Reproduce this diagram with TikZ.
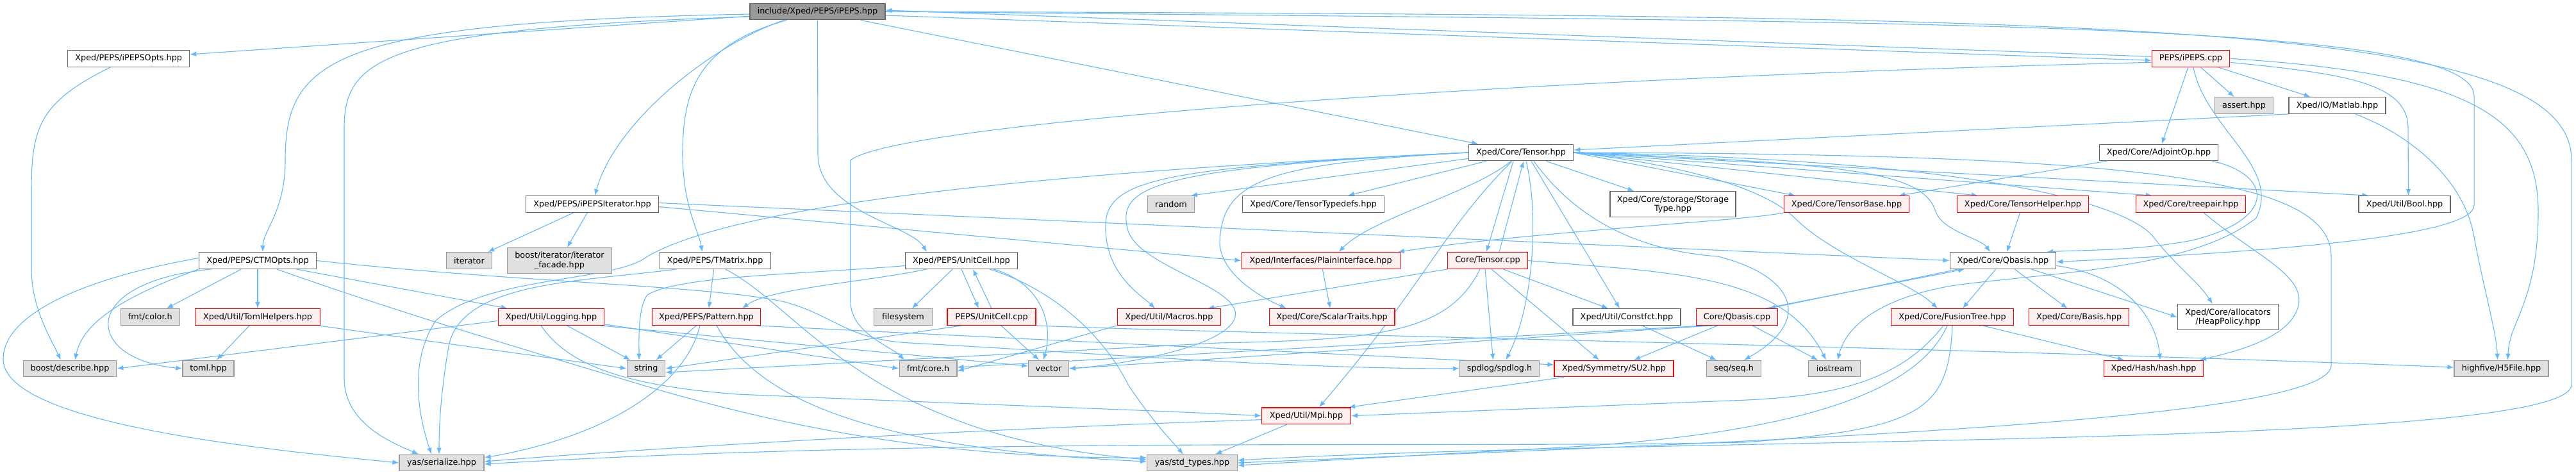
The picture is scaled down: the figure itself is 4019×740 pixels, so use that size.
\documentclass[tikz,border=0pt]{standalone}
\usepackage{fontspec}
\newfontfamily\dvs{DejaVu Sans}
\usetikzlibrary{arrows.meta}
\definecolor{edgeblue}{HTML}{63B8FF}
\definecolor{gfill}{HTML}{E0E0E0}
\definecolor{gline}{HTML}{999999}
\definecolor{wline}{HTML}{666666}
\definecolor{rline}{HTML}{FF0000}
\definecolor{rfill}{HTML}{FFF0F0}
\definecolor{mfill}{HTML}{999999}
\pgfdeclarelayer{back}
\pgfdeclarelayer{edges}
\pgfsetlayers{back,edges,main}
\begin{document}
\begin{tikzpicture}[x=0.5pt,y=-0.5pt,
  nb/.style={draw, line width=0.6pt, inner sep=0pt, minimum height=12.8pt, align=center, font=\dvs\fontsize{6.4pt}{7.2pt}\selectfont, text=black},
  wbox/.style={nb, fill=white, draw=wline},
  gbox/.style={nb, fill=gfill, draw=gline},
  rbox/.style={nb, fill=rfill, draw=rline},
  mbox/.style={nb, fill=mfill, draw=wline},
  dbl/.style={minimum height=20pt},
  dep/.style={draw=edgeblue, line width=0.55pt, -{Latex[length=5pt,width=3.8pt]}}
]
\begin{pgfonlayer}{back}
\fill[white] (0,0) rectangle (4019,740);
\end{pgfonlayer}
\useasboundingbox (0,0) rectangle (4019,740);

% ---------- nodes ----------
\node[mbox, minimum width=105.5pt] (root) at (1275.5,18) {include/Xped/PEPS/iPEPS.hpp};
\node[wbox, minimum width=95pt] (opts) at (200.7,91.3) {Xped/PEPS/iPEPSOpts.hpp};
\node[rbox, minimum width=60.75pt] (cpp) at (3418,91.3) {PEPS/iPEPS.cpp};
\node[gbox, minimum width=45.5pt] (assert) at (3501,164.5) {assert.hpp};
\node[wbox, minimum width=75.5pt] (matlab) at (3646.5,164.5) {Xped/IO/Matlab.hpp};
\node[wbox, minimum width=81.8pt] (tensor) at (2373,238) {Xped/Core/Tensor.hpp};
\node[wbox, minimum width=92.7pt] (adj) at (3368,238) {Xped/Core/AdjointOp.hpp};
\node[wbox, minimum width=103.4pt] (iter) at (924,318.5) {Xped/PEPS/iPEPSIterator.hpp};
\node[gbox, minimum width=36.3pt] (random) at (1827,318.5) {random};
\node[wbox, minimum width=110.8pt] (typedefs) at (2049,318.5) {Xped/Core/TensorTypedefs.hpp};
\node[wbox, dbl, minimum width=98pt] (storage) at (2610,318.7) {Xped/Core/storage/Storage\\Type.hpp};
\node[rbox, minimum width=97.5pt] (tbase) at (2881,318.5) {Xped/Core/TensorBase.hpp};
\node[rbox, minimum width=102.5pt] (thelper) at (3156,318.5) {Xped/Core/TensorHelper.hpp};
\node[rbox, minimum width=85.5pt] (treepair) at (3418,318.5) {Xped/Core/treepair.hpp};
\node[wbox, minimum width=71.5pt] (bool) at (3751.5,318.5) {Xped/Util/Bool.hpp};
\node[wbox, minimum width=91.5pt] (ctm) at (402,406.5) {Xped/PEPS/CTMOpts.hpp};
\node[gbox, minimum width=35.3pt] (iterator) at (732,406.5) {iterator};
\node[gbox, dbl, minimum width=81.3pt] (facade) at (873,406.5) {boost/iterator/iterator\\\_facade.hpp};
\node[wbox, minimum width=86.5pt] (tmatrix) at (1115.6,406.5) {Xped/PEPS/TMatrix.hpp};
\node[wbox, minimum width=87.5pt] (unitcell) at (1500,406.5) {Xped/PEPS/UnitCell.hpp};
\node[rbox, minimum width=123.5pt] (plain) at (2060.6,406.5) {Xped/Interfaces/PlainInterface.hpp};
\node[rbox, minimum width=62.3pt] (tcpp) at (2321,406.5) {Core/Tensor.cpp};
\node[wbox, minimum width=82.8pt] (qbasis) at (3125,406.5) {Xped/Core/Qbasis.hpp};
\node[gbox, minimum width=46pt] (color) at (234.4,494.5) {fmt/color.h};
\node[rbox, minimum width=97.8pt] (toml) at (402,494.5) {Xped/Util/TomlHelpers.hpp};
\node[rbox, minimum width=82.8pt] (logging) at (860,494.5) {Xped/Util/Logging.hpp};
\node[rbox, minimum width=84.8pt] (pattern) at (1102,494.5) {Xped/PEPS/Pattern.hpp};
\node[gbox, minimum width=45.5pt] (filesystem) at (1409,494.5) {filesystem};
\node[rbox, minimum width=69pt] (uccpp) at (1547,494.5) {PEPS/UnitCell.cpp};
\node[rbox, minimum width=80.8pt] (macros) at (1824,494.5) {Xped/Util/Macros.hpp};
\node[rbox, minimum width=97.9pt] (scalar) at (2078,494.5) {Xped/Core/ScalarTraits.hpp};
\node[wbox, minimum width=84pt] (constfct) at (2538,494.5) {Xped/Util/Constfct.hpp};
\node[rbox, minimum width=63.5pt] (qcpp) at (2710,494.5) {Core/Qbasis.cpp};
\node[rbox, minimum width=95.8pt] (fusion) at (3046,494.5) {Xped/Core/FusionTree.hpp};
\node[rbox, minimum width=78pt] (basis) at (3243.6,494.5) {Xped/Core/Basis.hpp};
\node[wbox, dbl, minimum width=78.8pt] (heap) at (3476,494.7) {Xped/Core/allocators\\/HeapPolicy.hpp};
\node[gbox, minimum width=72.8pt] (describe) at (109,575) {boost/describe.hpp};
\node[gbox, minimum width=40pt] (tomlhpp) at (325,575) {toml.hpp};
\node[gbox, minimum width=29.5pt] (string) at (1008,575) {string};
\node[gbox, minimum width=44.9pt] (fmtcore) at (1448,575) {fmt/core.h};
\node[gbox, minimum width=31.3pt] (vector) at (1636,575) {vector};
\node[gbox, minimum width=62pt] (spdlog) at (2339.5,575) {spdlog/spdlog.h};
\node[rbox, minimum width=93pt] (su2) at (2518,575) {Xped/Symmetry/SU2.hpp};
\node[gbox, minimum width=42.3pt] (seq) at (2705,575) {seq/seq.h};
\node[gbox, minimum width=40.3pt] (iostream) at (2862,575) {iostream};
\node[rbox, minimum width=77.8pt] (hash) at (3360,575) {Xped/Hash/hash.hpp};
\node[gbox, minimum width=73.5pt] (highfive) at (3902.5,575) {highfive/H5File.hpp};
\node[rbox, minimum width=69.5pt] (mpi) at (2038,648.7) {Xped/Util/Mpi.hpp};
\node[gbox, minimum width=66pt] (serialize) at (689,722) {yas/serialize.hpp};
\node[gbox, minimum width=70.3pt] (stdtypes) at (1860,722) {yas/std\_types.hpp};

% ---------- edges ----------
\begin{pgfonlayer}{edges}
% root
\draw[dep] (root) -- (opts);
\draw[dep] ([yshift=-2pt]root.west) .. controls (520,35) and (445,90) .. (445,250) .. controls (445,330) and (410,360) .. ([xshift=4pt]ctm.north);
\draw[dep] ([yshift=-4pt]root.west) .. controls (600,45) and (537,90) .. (537,200) -- (537,590) .. controls (537,660) and (610,690) .. ([xshift=-18pt]serialize.north);
\draw[dep] ([xshift=-26pt]root.south) .. controls (1110,70) and (960,190) .. ([xshift=2pt]iter.north);
\draw[dep] ([xshift=-24pt]root.south) .. controls (1090,70) and (1065,140) .. (1065,240) .. controls (1065,320) and (1090,360) .. ([xshift=-10pt]tmatrix.north);
\draw[dep] (root.south) -- (1276,240) .. controls (1276,330) and (1420,350) .. ([xshift=-27pt]unitcell.north);
\draw[dep] (root) -- (tensor);
\draw[dep] ([yshift=-3pt]root.east) -- ([yshift=-1.5pt]cpp.west);
\draw[dep] (root.east) .. controls (3000,35) and (3860,30) .. (3860,150) -- (3860,320) .. controls (3860,365) and (3600,390) .. ([yshift=-1pt]qbasis.east);
\draw[dep] (root.east) .. controls (3300,25) and (4012,30) .. (4012,250) -- (4012,600) .. controls (4012,700) and (2600,680) .. ([yshift=2pt]stdtypes.east);
% cpp
\draw[dep] ([yshift=1.5pt]cpp.west) -- ([yshift=1pt]root.east);
\draw[dep] (cpp) -- (assert);
\draw[dep] (cpp) -- (matlab);
\draw[dep] ([xshift=-2pt]cpp.south) -- (adj);
\draw[dep] ([yshift=-3pt]cpp.east) .. controls (3660,115) and (3757,130) .. (3757,200) -- ([xshift=3pt]bool.north);
\draw[dep] (cpp.east) .. controls (3850,115) and (3960,180) .. (3960,330) .. controls (3960,470) and (3915,500) .. ([xshift=5pt]highfive.north);
\draw[dep] ([xshift=2pt]cpp.south) .. controls (3440,200) and (3560,260) .. (3520,340) .. controls (3420,420) and (3200,425) .. (3050,445) .. controls (2930,465) and (2880,510) .. ([xshift=2.5pt]iostream.north);
\draw[dep] ([yshift=-3pt]cpp.west) .. controls (2400,120) and (1400,190) .. (1327,250) -- (1327,470) .. controls (1327,520) and (1390,540) .. ([xshift=-18.5pt]fmtcore.north);
% matlab
\draw[dep] (matlab.south west) -- ([yshift=2pt]tensor.east);
\draw[dep] ([xshift=14pt]matlab.south) .. controls (3760,210) and (3845,280) .. (3860,370) .. controls (3875,450) and (3895,520) .. ([xshift=-3pt]highfive.north);
% adj
\draw[dep] (adj) -- (tbase);
\draw[dep] ([xshift=-5pt]adj.south east) .. controls (3540,270) and (3560,340) .. (3420,375) .. controls (3330,392) and (3240,390) .. ([xshift=34pt]qbasis.north);
% tensor
\draw[dep] ([yshift=2pt]tensor.south west) -- ([xshift=-3pt]random.north east);
\draw[dep] (tensor) -- (typedefs);
\draw[dep] (tensor) -- (storage);
\draw[dep] ([xshift=-6pt]tensor.south) -- ([xshift=-1pt]tcpp.north);
\draw[dep] (tensor.east) -- ([xshift=-40pt]tbase.north);
\draw[dep] (tensor.east) -- ([xshift=-35pt]thelper.north);
\draw[dep] (tensor.east) -- ([xshift=-30pt]treepair.north);
\draw[dep] (tensor.east) -- ([xshift=-28pt]bool.north);
\draw[dep] (tensor.east) .. controls (2900,255) and (3000,270) .. (3020,330) .. controls (3030,360) and (3090,372) .. ([xshift=-10pt]qbasis.north);
\draw[dep] (tensor.east) .. controls (2650,260) and (2760,300) .. (2800,340) .. controls (2860,400) and (2980,440) .. ([xshift=-11.5pt]fusion.north);
\draw[dep] (tensor.east) .. controls (3150,250) and (3330,330) .. (3360,370) .. controls (3390,410) and (3430,440) .. ([xshift=-12pt]heap.north);
\draw[dep] (tensor.west) .. controls (1800,262) and (1720,280) .. (1725,360) .. controls (1728,430) and (1780,460) .. ([xshift=-11pt]macros.north);
\draw[dep] (tensor.west) .. controls (1800,262) and (1740,290) .. (1760,360) .. controls (1780,420) and (1950,450) .. (1925,500) .. controls (1900,545) and (1740,570) .. (vector.east);
\draw[dep] (tensor.west) .. controls (1980,255) and (1905,280) .. (1903,380) .. controls (1906,430) and (1970,465) .. ([xshift=-35.5pt]scalar.north);
\draw[dep] (tensor) .. controls (2300,300) and (2140,340) .. ([xshift=14pt]plain.north);
\draw[dep] ([xshift=-7pt]tensor.south) .. controls (2250,360) and (2225,440) .. ([xshift=10pt]mpi.north);
\draw[dep] ([xshift=4pt]tensor.south) .. controls (2400,330) and (2395,470) .. ([xshift=5pt]spdlog.north);
\draw[dep] ([xshift=8pt]tensor.south) -- ([xshift=-5.5pt]constfct.north);
\draw[dep] ([xshift=10pt]tensor.south) .. controls (2450,330) and (2540,390) .. (2680,400) .. controls (2800,430) and (2830,500) .. ([xshift=8pt]seq.north);
\draw[dep] (tensor.west) .. controls (1600,270) and (1150,320) .. (1010,400) .. controls (960,440) and (760,430) .. (680,500) .. controls (640,560) and (650,640) .. ([xshift=-8pt]serialize.north);
\draw[dep] (tensor.east) .. controls (3350,240) and (3637,280) .. (3637,400) -- (3637,570) .. controls (3637,660) and (2700,690) .. (stdtypes.east);
% tcpp
\draw[dep] ([xshift=9pt]tcpp.north) -- ([xshift=2pt]tensor.south);
\draw[dep] (tcpp.south west) -- ([xshift=30pt]macros.north);
\draw[dep] ([xshift=-6pt]tcpp.south) .. controls (2260,520) and (2150,530) .. (1900,535) -- ([yshift=-3pt]string.east);
\draw[dep] ([xshift=-2pt]tcpp.south) -- ([xshift=-5pt]spdlog.north);
\draw[dep] ([xshift=3pt]tcpp.south) -- ([xshift=-11.5pt]su2.north);
\draw[dep] ([xshift=12pt]tcpp.south) -- ([xshift=-14.5pt]constfct.north);
\draw[dep] (tcpp.east) .. controls (2600,425) and (2780,425) .. ([xshift=-6.5pt]iostream.north);
% iter
\draw[dep] (iter) -- (iterator);
\draw[dep] (iter) -- (facade);
\draw[dep] ([yshift=-2pt]iter.east) -- (plain.west);
\draw[dep] ([yshift=1pt]iter.east) -- (qbasis.west);
% ctm
\draw[dep] (ctm) -- (color);
\draw[dep] (ctm) -- (toml);
\draw[dep] (ctm.south west) .. controls (200,460) and (130,500) .. ([xshift=4pt]describe.north);
\draw[dep] ([xshift=-36pt]ctm.south) .. controls (120,440) and (130,560) .. (tomlhpp.west);
\draw[dep] ([yshift=2pt]ctm.west) .. controls (100,440) and (5,500) .. (5,560) .. controls (5,660) and (400,700) .. (serialize.west);
\draw[dep] ([xshift=30pt]ctm.south) -- ([xshift=-34pt]logging.north);
\draw[dep] ([xshift=15pt]ctm.south) .. controls (600,480) and (800,540) .. (1000,600) .. controls (1300,690) and (1550,715) .. ([yshift=4pt]stdtypes.west);
\draw[dep] (ctm.east) .. controls (800,440) and (1100,445) .. (1220,470) .. controls (1300,490) and (1320,530) .. (1420,535) .. controls (1700,550) and (2000,575) .. (spdlog.west);
% opts
\draw[dep] ([xshift=-14pt]opts.south) .. controls (60,160) and (49,200) .. (49,300) -- (49,420) .. controls (49,480) and (80,530) .. ([xshift=-7pt]describe.north);
% toml
\draw[dep] (toml) -- (tomlhpp);
\draw[dep] ([xshift=-2pt]toml.south east) -- (string.west);
% logging
\draw[dep] ([yshift=-3pt]logging.west) -- (describe.east);
\draw[dep] (logging) -- (string);
\draw[dep] ([xshift=-8pt]logging.south) .. controls (880,560) and (950,600) .. (1150,615) .. controls (1500,630) and (1800,640) .. (mpi.west);
\draw[dep] ([xshift=-3pt]logging.south east) -- ([yshift=2pt]vector.west);
\draw[dep] ([yshift=1pt]logging.south east) -- (fmtcore.west);
% pattern
\draw[dep] (pattern) -- (string);
\draw[dep] ([xshift=-5pt]pattern.south) .. controls (1070,600) and (950,680) .. ([yshift=4pt]serialize.east);
\draw[dep] ([xshift=8pt]pattern.south) .. controls (1180,620) and (1350,700) .. ([yshift=1pt]stdtypes.west);
\draw[dep] ([xshift=-4pt]pattern.south east) -- ([yshift=3pt]su2.west);
% tmatrix
\draw[dep] ([xshift=-1pt]tmatrix.south) -- ([xshift=2pt]pattern.north);
\draw[dep] ([xshift=-30pt]tmatrix.south) .. controls (900,440) and (720,440) .. (700,540) .. controls (690,600) and (685,650) .. ([xshift=-2pt]serialize.north);
\draw[dep] ([xshift=8pt]tmatrix.south) .. controls (1250,480) and (1350,680) .. ([yshift=2.5pt]stdtypes.west);
% unitcell
\draw[dep] (unitcell) -- (filesystem);
\draw[dep] (unitcell.south) -- ([xshift=-10pt]uccpp.north);
\draw[dep] (uccpp.north) -- ([xshift=9pt]unitcell.south);
\draw[dep] ([xshift=25pt]unitcell.south) .. controls (1620,440) and (1645,500) .. ([xshift=-4pt]vector.north);
\draw[dep] ([xshift=22pt]unitcell.south) .. controls (1640,450) and (1720,520) .. (1760,600) .. controls (1800,660) and (1830,690) .. ([xshift=-7pt]stdtypes.north);
\draw[dep] ([yshift=-4pt]unitcell.west) .. controls (1250,428) and (1060,430) .. (1010,460) .. controls (995,480) and (997,530) .. ([xshift=-5.5pt]string.north);
\draw[dep] ([xshift=-27pt]unitcell.south) .. controls (1350,440) and (1200,450) .. ([xshift=28pt]pattern.north);
% uccpp
\draw[dep] (uccpp) -- (vector);
\draw[dep] ([xshift=-23pt]uccpp.south) -- (string.east);
\draw[dep] (uccpp.south east) .. controls (1900,520) and (3000,540) .. ([yshift=1pt]highfive.west);
% macros, plain, tbase
\draw[dep] (macros.south west) -- ([yshift=-2pt]fmtcore.east);
\draw[dep] (plain) -- (scalar);
\draw[dep] (tbase.south west) .. controls (2720,345) and (2400,360) .. ([xshift=-2pt]plain.north east);
% qbasis
\draw[dep] ([xshift=-35pt]qbasis.south) -- ([xshift=25pt]qcpp.north);
\draw[dep] ([xshift=22pt]qcpp.north) -- ([xshift=-30pt]qbasis.south);
\draw[dep] (qbasis) -- ([xshift=8pt]fusion.north);
\draw[dep] (qbasis) -- (basis);
\draw[dep] ([xshift=22pt]qbasis.south) -- (heap.west);
\draw[dep] ([yshift=-4pt]qbasis.east) .. controls (3320,430) and (3365,500) .. ([xshift=5pt]hash.north);
% qcpp
\draw[dep] ([xshift=-15pt]qcpp.south) -- ([xshift=15.5pt]su2.north);
\draw[dep] ([xshift=-25pt]qcpp.south) -- ([yshift=1pt]fmtcore.east);
\draw[dep] ([xshift=-20pt]qcpp.south) -- (vector.east);
\draw[dep] ([xshift=12pt]qcpp.south) -- ([xshift=-13pt]iostream.north);
% thelper, treepair
\draw[dep] (thelper) -- ([xshift=3pt]qbasis.north);
\draw[dep] ([xshift=10pt]treepair.south) .. controls (3520,400) and (3600,430) .. (3585,480) .. controls (3570,530) and (3480,550) .. ([xshift=36pt]hash.north);
% fusion
\draw[dep] ([xshift=23.5pt]fusion.south) -- ([xshift=-23pt]hash.north);
\draw[dep] ([xshift=-7pt]fusion.south) .. controls (2960,600) and (2850,620) .. (2700,625) -- (mpi.east);
\draw[dep] ([xshift=-4pt]fusion.south) .. controls (2980,640) and (2700,685) .. (2400,700) -- ([yshift=-2pt]stdtypes.east);
\draw[dep] (fusion.south) .. controls (3040,640) and (3000,670) .. (2720,690) .. controls (2300,700) and (1500,680) .. ([yshift=-1pt]serialize.east);
% su2, mpi, constfct
\draw[dep] ([xshift=8pt]su2.south west) -- ([xshift=-2pt]mpi.north east);
\draw[dep] ([xshift=-15pt]mpi.south) -- ([xshift=18pt]stdtypes.north);
\draw[dep] ([yshift=-3pt]mpi.west) .. controls (1500,670) and (1000,700) .. ([yshift=1pt]serialize.east);
\draw[dep] ([xshift=12pt]constfct.south) -- ([xshift=-13.5pt]seq.north);
\end{pgfonlayer}
\end{tikzpicture}
\end{document}
